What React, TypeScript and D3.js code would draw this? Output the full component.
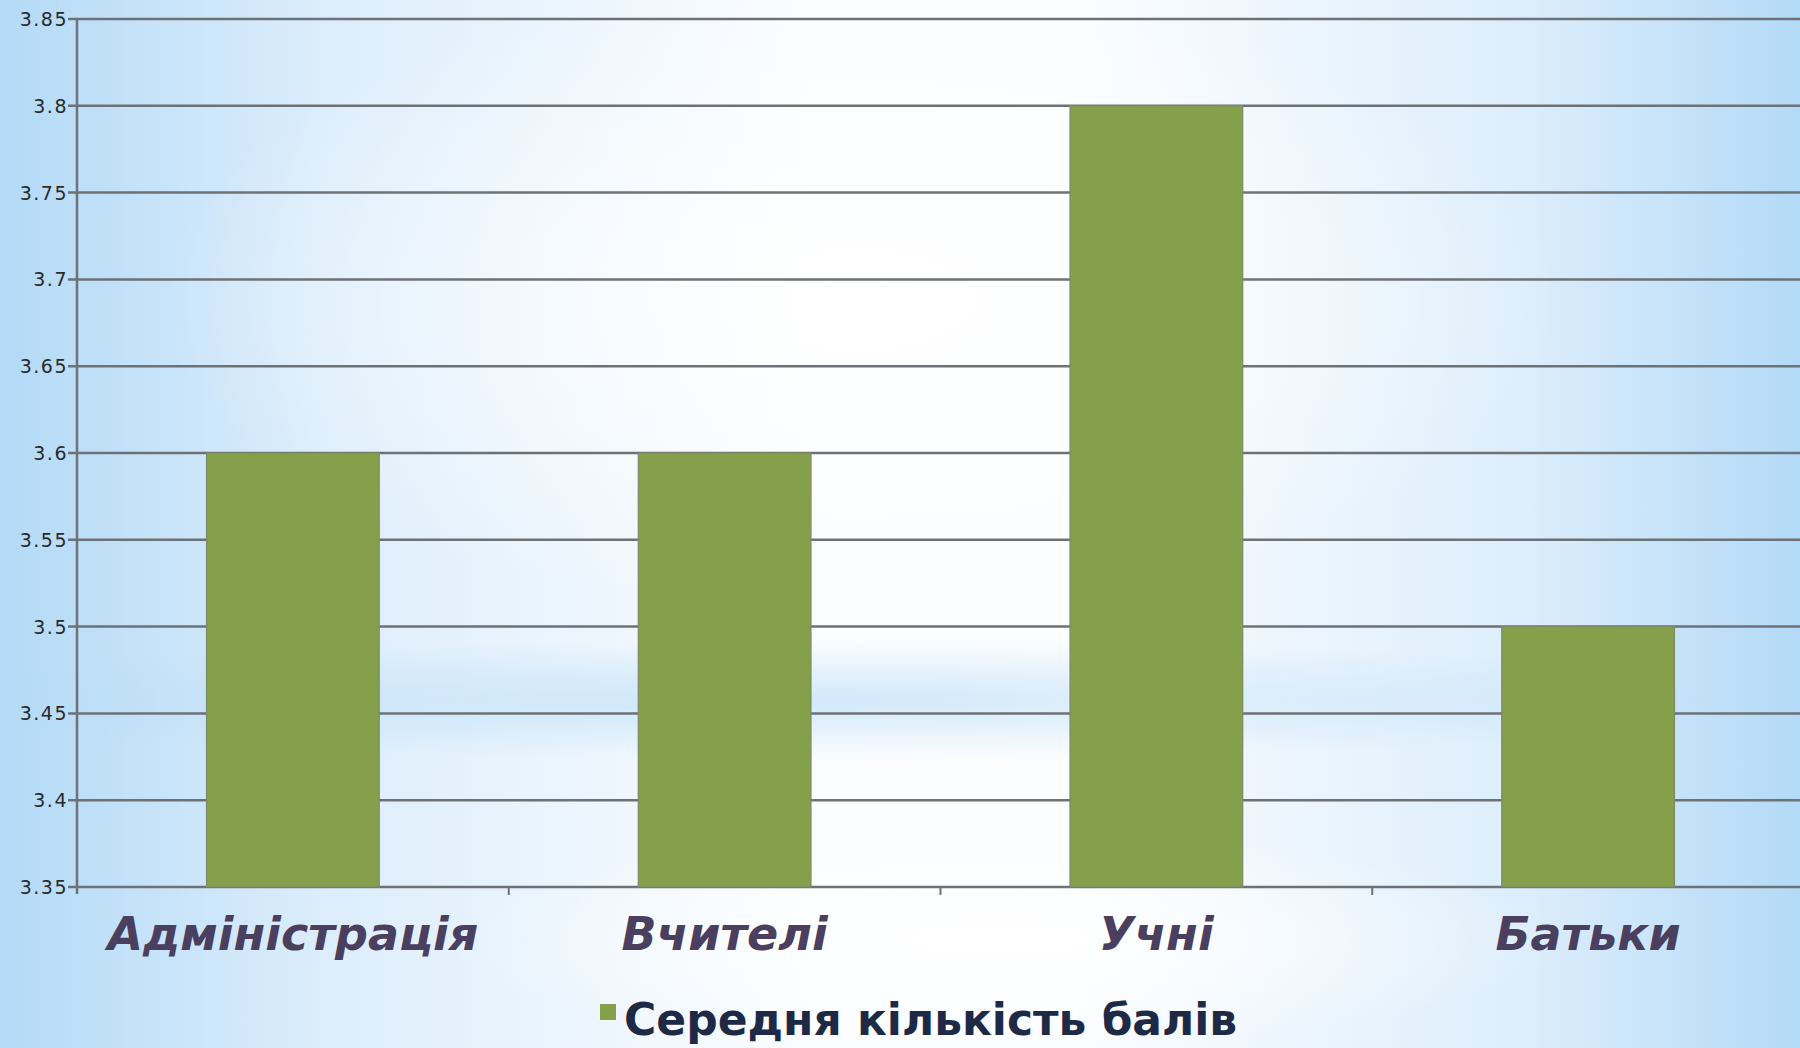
import * as d3 from "d3";
import { useEffect, useRef } from "react";

const categories = ["Адміністрація", "Вчителі", "Учні", "Батьки"];
const scores = [3.6, 3.6, 3.8, 3.5];
const yTicks = [3.35, 3.4, 3.45, 3.5, 3.55, 3.6, 3.65, 3.7, 3.75, 3.8, 3.85];
const seriesName = "Середня кількість балів";

const width = 1800;
const height = 1048;

const App = () => {
  const ref = useRef<SVGSVGElement | null>(null);

  useEffect(() => {
    const margin = { top: 19, right: -4, bottom: 161, left: 77 };
    const svg = d3.select(ref.current);
    svg.selectAll("*").remove();

    // background: pale sky look, blue edges and white middle
    const defs = svg.append("defs");
    const lin = defs
      .append("linearGradient")
      .attr("id", "bgLin")
      .attr("x1", "0")
      .attr("x2", "1")
      .attr("y1", "0")
      .attr("y2", "0");
    [
      ["0%", "#b3daf7"],
      ["18%", "#dcedfb"],
      ["45%", "#fbfdff"],
      ["60%", "#fbfdff"],
      ["85%", "#dcedfb"],
      ["100%", "#b3daf7"],
    ].forEach(([o, c]) => lin.append("stop").attr("offset", o).attr("stop-color", c));

    const band = defs
      .append("radialGradient")
      .attr("id", "bgBand")
      .attr("cx", "0.5")
      .attr("cy", "0.5")
      .attr("r", "0.5");
    band.append("stop").attr("offset", "0%").attr("stop-color", "#b4daf6").attr("stop-opacity", 0.6);
    band.append("stop").attr("offset", "100%").attr("stop-color", "#b4daf6").attr("stop-opacity", 0);

    const glow = defs
      .append("radialGradient")
      .attr("id", "bgGlow")
      .attr("cx", "0.5")
      .attr("cy", "0.5")
      .attr("r", "0.5");
    glow.append("stop").attr("offset", "0%").attr("stop-color", "#ffffff").attr("stop-opacity", 0.9);
    glow.append("stop").attr("offset", "100%").attr("stop-color", "#ffffff").attr("stop-opacity", 0);

    svg.append("rect").attr("width", width).attr("height", height).attr("fill", "url(#bgLin)");
    svg
      .append("ellipse")
      .attr("cx", 860)
      .attr("cy", 300)
      .attr("rx", 700)
      .attr("ry", 320)
      .attr("fill", "url(#bgGlow)");
    svg
      .append("ellipse")
      .attr("cx", 800)
      .attr("cy", 700)
      .attr("rx", 1000)
      .attr("ry", 60)
      .attr("fill", "url(#bgBand)");
    svg
      .append("ellipse")
      .attr("cx", 1000)
      .attr("cy", 940)
      .attr("rx", 560)
      .attr("ry", 110)
      .attr("fill", "url(#bgGlow)");

    const x = d3
      .scaleBand()
      .domain(categories)
      .range([margin.left, width - margin.right])
      .paddingInner(0.6)
      .paddingOuter(0.3);

    const y = d3
      .scaleLinear()
      .domain([3.35, 3.85])
      .range([height - margin.bottom, margin.top]);

    // gridlines
    svg
      .append("g")
      .selectAll("line")
      .data(yTicks)
      .enter()
      .append("line")
      .attr("x1", margin.left - 9)
      .attr("x2", width)
      .attr("y1", (d) => y(d))
      .attr("y2", (d) => y(d))
      .attr("stroke", "#6c7276")
      .attr("stroke-width", 2.5);

    // bars
    svg
      .append("g")
      .selectAll("rect")
      .data(scores)
      .enter()
      .append("rect")
      .attr("x", (d, i) => x(categories[i]) as number)
      .attr("y", (d) => y(d))
      .attr("width", x.bandwidth())
      .attr("height", (d) => y(3.35) - y(d))
      .attr("fill", "#84a04b")
      .attr("stroke", "#7c8a66")
      .attr("stroke-width", 1.2);

    // y axis line
    svg
      .append("line")
      .attr("x1", margin.left)
      .attr("x2", margin.left)
      .attr("y1", y(3.85))
      .attr("y2", y(3.35) + 7)
      .attr("stroke", "#6c7276")
      .attr("stroke-width", 2.5);

    // x axis category ticks
    const step = x.step();
    svg
      .append("g")
      .selectAll("line")
      .data(d3.range(1, categories.length))
      .enter()
      .append("line")
      .attr("x1", (d) => margin.left + d * step)
      .attr("x2", (d) => margin.left + d * step)
      .attr("y1", y(3.35))
      .attr("y2", y(3.35) + 8)
      .attr("stroke", "#6c7276")
      .attr("stroke-width", 2);

    // y tick labels
    svg
      .append("g")
      .selectAll("text")
      .data(yTicks)
      .enter()
      .append("text")
      .attr("x", margin.left - 9)
      .attr("y", (d) => y(d) + 7)
      .attr("text-anchor", "end")
      .style("font-family", "'DejaVu Sans', sans-serif")
      .style("font-size", "19px")
      .style("letter-spacing", "1.5px")
      .attr("fill", "#2a2a2a")
      .text((d) => String(d));

    // category labels
    svg
      .append("g")
      .selectAll("text")
      .data(categories)
      .enter()
      .append("text")
      .attr("x", (d) => (x(d) as number) + x.bandwidth() / 2)
      .attr("y", 950)
      .attr("text-anchor", "middle")
      .style("font-family", "'DejaVu Sans', sans-serif")
      .style("font-weight", "bold")
      .style("font-style", "italic")
      .style("font-size", "46px")
      .attr("fill", "#4b3f60")
      .text((d) => d);

    // legend
    const legend = svg.append("g").attr("transform", "translate(600,1035)");
    legend
      .append("rect")
      .attr("x", 0)
      .attr("y", -31)
      .attr("width", 16)
      .attr("height", 16)
      .attr("fill", "#84a04b");
    legend
      .append("text")
      .attr("x", 24)
      .attr("y", 0)
      .style("font-family", "'DejaVu Sans', sans-serif")
      .style("font-weight", "bold")
      .style("font-size", "44px")
      .attr("fill", "#1e2a45")
      .text(seriesName);
  }, []);

  return (
    <svg
      ref={ref}
      width={width}
      height={height}
      style={{ position: "absolute", left: 0, top: 0, display: "block" }}
    />
  );
};

export default App;
